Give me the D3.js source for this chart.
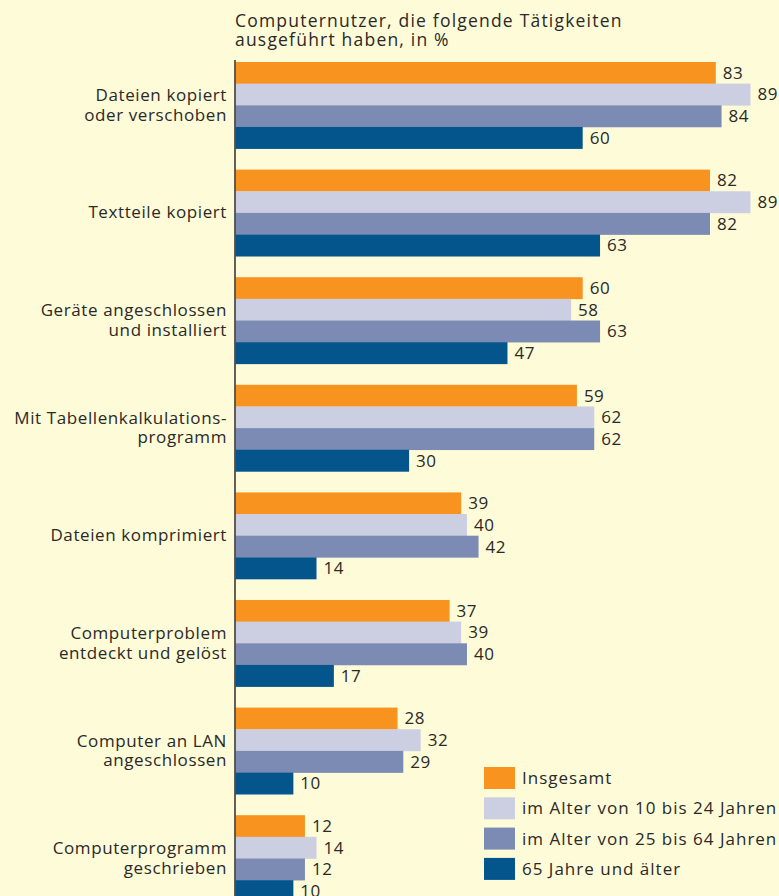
<!DOCTYPE html>
<html>
<head>
<meta charset="utf-8">
<script src="https://cdn.jsdelivr.net/npm/d3@7"></script>
<style>
  html, body { margin:0; padding:0; background:#fefbd8; }
  svg text { font-family:"Open Sans", "Liberation Sans", sans-serif; fill:#2a2927; }
</style>
</head>
<body>
<div class="canvas"></div>
<script>
// data
const categories = [
    ['Dateien kopiert', 'oder verschoben'],
    ['Textteile kopiert'],
    ['Geräte angeschlossen', 'und installiert'],
    ['Mit Tabellenkalkulations-', 'programm'],
    ['Dateien komprimiert'],
    ['Computerproblem', 'entdeckt und gelöst'],
    ['Computer an LAN', 'angeschlossen'],
    ['Computerprogramm', 'geschrieben']
];
const seriesNames = ['Insgesamt', 'im Alter von 10 bis 24 Jahren', 'im Alter von 25 bis 64 Jahren', '65 Jahre und älter'];
const insgesamt = [83, 82, 60, 59, 39, 37, 28, 12];
const alter10bis24 = [89, 89, 58, 62, 40, 39, 32, 14];
const alter25bis64 = [84, 82, 63, 62, 42, 40, 29, 12];
const alter65plus = [60, 63, 47, 30, 14, 17, 10, 10];
const colors = ['#f7931e', '#cccfe1', '#7b8bb3', '#04558c'];
const titleLines = ['Computernutzer, die folgende Tätigkeiten', 'ausgeführt haben, in %'];

const width = 779, height = 896;
const x0 = 235.5;

const svg = d3.select('.canvas')
    .append('svg')
    .attr('width', width)
    .attr('height', height)
    .style('display', 'block');

svg.append('rect').attr('width', width).attr('height', height).attr('fill', '#fefbd8');

const seriesValues = [insgesamt, alter10bis24, alter25bis64, alter65plus];
const data = categories.map((c, i) => ({
    key: c.join(' '),
    lines: c,
    values: seriesValues.map((s, j) => ({series: j, value: s[i]}))
}));

// group band: each group is 4 bars, groups 107.6px apart
const y = d3.scaleBand()
    .domain(data.map(d => d.key))
    .range([62, 62 + 7 * 107.6 + 86.6])
    .paddingInner(0.195)
    .paddingOuter(0);

const ySub = d3.scaleBand()
    .domain(d3.range(seriesNames.length))
    .range([0, y.bandwidth()]);

const x = d3.scaleLinear()
    .domain([0, 89])
    .range([0, 515]);

// the original face is wide and loosely tracked
const fs = 17;

// title
svg.append('text')
    .attr('x', 235)
    .attr('y', 27)
    .style('font-size', '17.5px')
    .style('letter-spacing', '1.2px')
    .selectAll('tspan')
    .data(titleLines)
    .enter().append('tspan')
    .attr('x', 235)
    .attr('dy', (d, i) => i ? 19 : 0)
    .text(d => d);

const groups = svg.selectAll('g.group')
    .data(data)
    .enter().append('g')
    .attr('class', 'group')
    .attr('transform', d => `translate(${x0},${y(d.key)})`);

groups.selectAll('rect')
    .data(d => d.values)
    .enter().append('rect')
    .attr('x', 0)
    .attr('y', d => ySub(d.series))
    .attr('height', ySub.bandwidth() + 0.3)
    .attr('width', d => x(d.value))
    .attr('fill', d => colors[d.series]);

groups.selectAll('text.val')
    .data(d => d.values)
    .enter().append('text')
    .attr('class', 'val')
    .attr('x', d => x(d.value) + 7)
    .attr('y', d => ySub(d.series) + ySub.bandwidth() / 2 + 6)
    .style('font-size', fs + 'px')
    .style('letter-spacing', '0.5px')
    .text(d => d.value);

// category labels, right aligned against the axis
groups.append('text')
    .attr('text-anchor', 'end')
    .style('font-size', fs + 'px')
    .style('letter-spacing', '0.6px')
    .selectAll('tspan')
    .data(d => d.lines.map((l, i) => ({l, i, n: d.lines.length})))
    .enter().append('tspan')
    .attr('x', 227 - x0)
    .attr('y', d => y.bandwidth() / 2 + 5.5 + (d.i - (d.n - 1) / 2) * 19.5)
    .text(d => d.l);

// axis line
svg.append('line')
    .attr('x1', x0 - 0.5).attr('x2', x0 - 0.5)
    .attr('y1', 60).attr('y2', height)
    .attr('stroke', '#3a3937')
    .attr('stroke-width', 1.6);

// legend
const legend = svg.append('g')
    .attr('transform', 'translate(484,767)');

const items = legend.selectAll('g')
    .data(seriesNames)
    .enter().append('g')
    .attr('transform', (d, i) => `translate(0,${i * 30.3})`);

items.append('rect')
    .attr('width', 31)
    .attr('height', 22)
    .attr('fill', (d, i) => colors[i]);

items.append('text')
    .attr('x', 38)
    .attr('y', 17)
    .style('font-size', fs + 'px')
    .style('letter-spacing', '1px')
    .text(d => d);
</script>
</body>
</html>
